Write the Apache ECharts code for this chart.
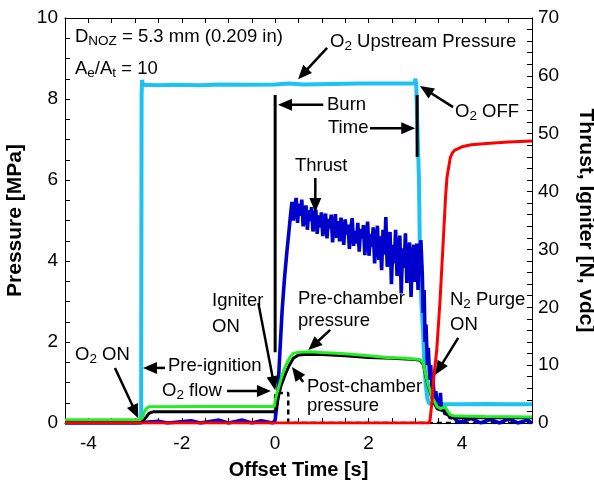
<!DOCTYPE html>
<html><head><meta charset="utf-8">
<script src="https://cdn.jsdelivr.net/npm/echarts@6/dist/echarts.min.js"></script>
<style>html,body{margin:0;padding:0;background:#fff}#c{width:594px;height:483px}</style>
</head><body><div id="c"></div><script>
const FONT = 'Liberation Sans, Arial, Helvetica, sans-serif';

// ---- tick labels ----
const xTickLabels = [-4, -2, 0, 2, 4];
const xTickMarks = [-4.5,-4,-3.5,-3,-2.5,-2,-1.5,-1,-0.5,0,0.5,1,1.5,2,2.5,3,3.5,4,4.5,5,5.5];

// ---- series data: [time s, value] ----
// O2 upstream pressure [MPa]
const o2Upstream = [[-4.5,0],[-2.87,0],[-2.86,8.1],[-2.85,8.47],[-2.83,8.35],[-2.5,8.34],[-2.2,8.35],[-1.6,8.34],[-1.2,8.36],[-0.6,8.35],[0,8.36],[0.3,8.38],[0.6,8.36],[1.2,8.37],[1.8,8.38],[2.4,8.38],[2.99,8.38],[3.0,8.5],[3.02,8.38],[3.06,8.38],[3.08,6.0],[3.1,4.2],[3.13,3.0],[3.17,2.2],[3.19,1.6],[3.22,1.0],[3.26,0.6],[3.3,0.48],[3.6,0.47],[4.0,0.46],[4.5,0.47],[5.0,0.46],[5.5,0.46]];
// Pre-chamber pressure [MPa]
const preChamber = [[-4.5,0.08],[-2.9,0.08],[-2.85,0.12],[-2.8,0.28],[-2.75,0.37],[-2.7,0.4],[-1.5,0.41],[-0.02,0.41],[0.0,0.55],[0.04,0.74],[0.1,0.98],[0.15,1.18],[0.2,1.35],[0.26,1.5],[0.32,1.63],[0.39,1.72],[0.5,1.75],[0.75,1.76],[1.0,1.74],[1.5,1.71],[2.0,1.66],[2.4,1.62],[2.8,1.6],[3.1,1.57],[3.17,1.48],[3.25,1.06],[3.36,0.64],[3.47,0.40],[3.53,0.36],[3.58,0.37],[3.64,0.40],[3.7,0.28],[3.75,0.2],[3.85,0.17],[4.5,0.16],[5.5,0.15]];
// Post-chamber pressure [MPa]
const postChamber = [[-4.5,0.02],[-2.85,0.02],[-2.78,0.12],[-2.7,0.24],[-2.6,0.28],[-1,0.28],[-0.02,0.28],[0.02,0.35],[0.06,0.6],[0.12,0.9],[0.21,1.18],[0.3,1.42],[0.39,1.6],[0.5,1.68],[0.7,1.7],[1.0,1.69],[1.5,1.66],[2.0,1.62],[2.5,1.6],[3.0,1.57],[3.1,1.55],[3.17,1.45],[3.25,1.03],[3.36,0.6],[3.47,0.35],[3.6,0.3],[3.7,0.2],[3.8,0.13],[4.5,0.13],[5.5,0.13]];
// N2 purge pressure [MPa]
const n2Purge = [[-4.5,0],[3.3,0],[3.32,0.1],[3.36,0.55],[3.39,1.05],[3.46,1.8],[3.53,3.0],[3.6,4.5],[3.65,5.6],[3.68,6.07],[3.75,6.55],[3.8,6.68],[3.85,6.74],[4.0,6.82],[4.2,6.87],[4.6,6.91],[5.0,6.94],[5.5,6.96]];
// Thrust [N]
const thrust = [[-4.5,0],[-3,0],[-2.5,0.3],[-2.3,0],[-1.8,0.4],[-1.6,0],[-1.2,0.5],[-1.0,0],[-0.7,0.5],[-0.5,0],[-0.3,0.4],[-0.05,0],[0,0.5],[0.05,4],[0.1,12],[0.15,19.5],[0.2,25],[0.25,29.5],[0.3,33.5],[0.33,36],
[0.36,38.2],[0.39,35.0],[0.42,37.4],[0.45,38.9],[0.48,34.6],[0.51,37.9],[0.54,35.8],[0.57,38.6],[0.60,34.0],[0.63,36.2],[0.66,37.6],[0.69,33.4],[0.72,36.8],[0.75,34.9],[0.78,37.3],[0.81,33.1],[0.84,35.6],[0.87,36.9],[0.90,32.7],[0.93,35.9],[0.96,33.8],[0.99,36.4],[1.02,32.3],[1.05,34.7],[1.08,36.2],[1.11,31.9],[1.14,35.3],[1.17,33.6],[1.20,36.0],[1.23,31.2],[1.26,34.4],[1.29,36.1],[1.32,32.0],[1.35,34.9],[1.38,31.4],[1.41,35.5],[1.44,33.1],[1.47,30.8],[1.50,35.2],[1.53,32.6],[1.56,34.3],[1.59,30.1],[1.62,33.7],[1.65,35.4],[1.68,30.6],[1.71,33.2],[1.74,31.0],[1.77,34.6],[1.80,29.6],[1.83,33.5],[1.86,31.9],[1.89,34.2],[1.92,29.0],[1.95,32.4],[1.98,34.8],[2.01,28.9],[2.04,32.7],[2.07,30.4],[2.10,33.8],[2.13,27.6],[2.16,31.6],[2.19,34.1],[2.22,28.2],[2.25,32.3],[2.28,26.4],[2.31,33.4],[2.34,29.1],[2.37,35.6],[2.40,27.0],[2.43,31.2],[2.46,33.0],[2.49,24.0],[2.52,30.8],[2.55,27.6],[2.58,33.4],[2.61,25.4],[2.64,29.6],[2.67,32.4],[2.70,22.4],[2.73,30.2],[2.76,26.8],[2.79,32.8],[2.82,24.2],[2.85,29.4],[2.88,31.2],[2.91,21.8],[2.94,28.6],[2.97,30.8],[3.00,24.4],[3.03,31.0],[3.06,23.0],[3.09,29.4],[3.12,31.6],
[3.15,26],[3.17,19],[3.19,23],[3.21,14],[3.23,17],[3.26,10],[3.28,13],[3.31,7.5],[3.33,10],[3.36,5.5],[3.38,7.5],[3.41,4],[3.44,5.5],[3.47,3],[3.5,4],[3.52,2.5],[3.54,5.2],[3.56,2.2],[3.6,2.8],[3.64,1.5],[3.7,1.8],[3.75,0.8],[3.8,1.2],[3.9,0.3],[4.0,0.2],[4.2,0.8],[4.4,0],[4.6,0.6],[4.8,0],[5.0,0.7],[5.2,0],[5.4,0.5],[5.5,0]];
// Igniter [vdc]
const igniter = [[-4.5,0],[0,0],[0,5.2],[0.28,5.2],[0.28,0],[5.5,0]];

// ---- annotations (data coords: time, MPa) ----
const arrows = [
  [1.113,9.26, 0.49,8.49],   // O2 upstream
  [1.03,7.86, 0.06,7.86],    // Burn
  [2.03,7.28, 3.0,7.28],     // Time
  [3.81,7.80, 3.10,8.32],    // O2 OFF
  [0.86,6.05, 0.86,5.21],    // Thrust
  [-0.36,2.96, 0.0,0.81],    // Igniter ON
  [1.18,2.30, 0.71,1.80],    // Pre-chamber
  [3.92,2.10, 3.43,1.19],    // N2 purge
  [-3.43,1.36, -2.93,0.12],  // O2 ON
  [-2.36,1.36, -2.83,1.36],  // Pre-ignition
  [-1.03,0.79, -0.09,0.79],  // O2 flow
  [0.60,1.01, 0.36,1.38]     // Post-chamber
];
const burnLines = [[0,8.1, 0,1.75],[3.04,8.1, 3.04,6.57]];
const labels = [
  ['D{s|NOZ} = 5.3 mm (0.209 in)', 75, 37],
  ['A{s|e}/A{s|t} = 10', 75, 69],
  ['O{s|2} Upstream Pressure', 330, 42],
  ['Burn', 327, 105],
  ['Time', 328, 127.5],
  ['O{s|2} OFF', 455, 112],
  ['Thrust', 295, 166],
  ['Igniter', 212, 301],
  ['ON', 212, 326.5],
  ['Pre-chamber', 298, 298.5],
  ['pressure', 298, 320.5],
  ['N{s|2} Purge', 450, 300],
  ['ON', 450, 325],
  ['O{s|2} ON', 75, 355],
  ['Pre-ignition', 168, 366],
  ['O{s|2} flow', 162, 391],
  ['Post-chamber', 307, 386.5],
  ['pressure', 307, 406]
];

const chart = echarts.init(document.getElementById('c'), null, {renderer:'canvas'});
const axisLine = {show:true, onZero:false, lineStyle:{color:'#000', width:1}};
const tickStyle = {color:'#000', width:1};
const labelStyle = {color:'#000', fontSize:19, fontFamily:FONT};
const nameStyleX = {color:'#000', fontSize:20, fontWeight:'bold', fontFamily:FONT};
const nameStyleY = {color:'#000', fontSize:21, fontWeight:'bold', fontFamily:FONT};

function line(name, data, color, width, yIdx, z, type) {
  return {name, type:'line', data, xAxisIndex:0, yAxisIndex:yIdx, showSymbol:false, symbol:'none',
    lineStyle:{color, width, type:type||'solid'}, itemStyle:{color}, z, silent:true, animation:false, clip:true, sampling:null};
}

chart.setOption({
  animation:false,
  backgroundColor:'#fff',
  grid:{left:65, right:62, top:18, bottom:60, containLabel:false, outerBoundsMode:'none'},
  xAxis:[
    {type:'value', min:-4.5, max:5.5, position:'bottom', axisLine,
     axisTick:{inside:true, length:5, customValues:xTickMarks, lineStyle:tickStyle},
     axisLabel:{customValues:xTickLabels, margin:11, ...labelStyle},
     splitLine:{show:false},
     name:'Offset Time [s]', nameLocation:'middle', nameGap:37, nameTextStyle:nameStyleX},
    {type:'value', min:-4.5, max:5.5, position:'top', axisLine,
     axisTick:{inside:true, length:5, customValues:xTickMarks, lineStyle:tickStyle},
     axisLabel:{show:false}, splitLine:{show:false}}
  ],
  yAxis:[
    {type:'value', min:0, max:10, interval:2, position:'left', axisLine,
     axisTick:{inside:true, length:5, lineStyle:tickStyle},
     minorTick:{show:true, splitNumber:4, length:5, lineStyle:tickStyle},
     axisLabel:{margin:7, ...labelStyle}, splitLine:{show:false}, minorSplitLine:{show:false},
     name:'Pressure [MPa]', nameLocation:'middle', nameGap:38, nameRotate:90, nameTextStyle:nameStyleY},
    {type:'value', min:0, max:70, interval:10, position:'right', axisLine,
     axisTick:{inside:true, length:5, lineStyle:tickStyle},
     minorTick:{show:true, splitNumber:5, length:5, lineStyle:tickStyle},
     axisLabel:{margin:6, ...labelStyle}, splitLine:{show:false}, minorSplitLine:{show:false},
     name:'Thrust, Igniter [N, vdc]', nameLocation:'middle', nameGap:43, nameRotate:-90, nameTextStyle:nameStyleY}
  ],
  series:[
    line('Igniter', igniter, '#000', 2.5, 1, 2, [5,4]),
    line('O2 Upstream', o2Upstream, '#1ec2f2', 4, 0, 3),
    line('Thrust', thrust, '#0000cc', 3.6, 1, 4),
    line('Post-chamber', postChamber, '#000', 3, 0, 5),
    line('Pre-chamber', preChamber, '#22ee22', 3, 0, 6),
    line('N2 Purge', n2Purge, '#ff0000', 3, 0, 7)
  ]
});

// annotations: convert data coords to pixels
const g = [];
const px = (t,p) => chart.convertToPixel({gridIndex:0}, [t,p]);
burnLines.forEach(b => {
  const a = px(b[0],b[1]), c = px(b[2],b[3]);
  g.push({type:'line', shape:{x1:a[0],y1:a[1],x2:c[0],y2:c[1]}, style:{stroke:'#000', lineWidth:3}, z:100, silent:true});
});
arrows.forEach(r => {
  const a = px(r[0],r[1]), tip = px(r[2],r[3]);
  const dx = tip[0]-a[0], dy = tip[1]-a[1], L = Math.hypot(dx,dy);
  const ux = dx/L, uy = dy/L, hl = 14, hw = 6;
  const bx = tip[0]-ux*hl, by = tip[1]-uy*hl;
  g.push({type:'line', shape:{x1:a[0],y1:a[1],x2:bx+ux*2,y2:by+uy*2}, style:{stroke:'#000', lineWidth:2.5}, z:100, silent:true});
  g.push({type:'polygon', shape:{points:[[tip[0],tip[1]],[bx-uy*hw,by+ux*hw],[bx+uy*hw,by-ux*hw]]}, style:{fill:'#000'}, z:100, silent:true});
});
labels.forEach(l => {
  g.push({type:'text', x:l[1], y:l[2], z:101, silent:true,
    style:{text:l[0], fill:'#000', fontSize:18.5, fontFamily:FONT, lineHeight:22, align:'left', verticalAlign:'middle',
      rich:{s:{fontSize:13.5, fontFamily:FONT, lineHeight:9, verticalAlign:'bottom', fill:'#000'}}}});
});
chart.setOption({graphic:g});
</script></body></html>
